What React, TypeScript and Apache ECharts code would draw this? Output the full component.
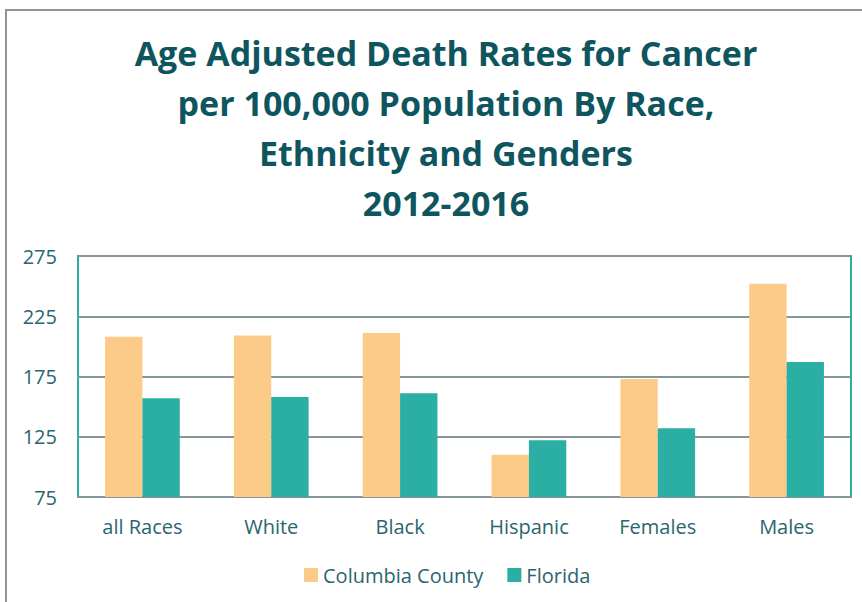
import React, { useEffect, useRef } from "react";
import * as echarts from "echarts";

const categories = ["all Races", "White", "Black", "Hispanic", "Females", "Males"];
const columbiaCounty = [208, 209, 211, 110, 173, 252];
const florida = [157, 158, 161, 122, 132, 187];
const seriesNames = ["Columbia County", "Florida"];
const titleText = "Age Adjusted Death Rates for Cancer\nper 100,000 Population By Race,\nEthnicity and Genders\n2012-2016";

export default function App() {
  const ref = useRef<HTMLDivElement>(null);
  useEffect(() => {
    if (!ref.current) return;
    const chart = echarts.init(ref.current, undefined, { renderer: "svg" });
    const font = "'Open Sans', Lato, sans-serif";
    chart.setOption({
      animation: false,
      backgroundColor: "#ffffff",
      title: {
        text: titleText,
        left: 441,
        textAlign: "center",
        top: 23,
        textStyle: {
          fontFamily: font,
          fontSize: 34,
          fontWeight: "bold",
          color: "#0E5560",
          lineHeight: 50,
        },
      },
      graphic: [
        {
          type: "rect",
          shape: { x: 6, y: 10, width: 900, height: 700 },
          style: { fill: "none", stroke: "#8A989D", lineWidth: 2 },
          silent: true,
          z: 0,
        },
      ],
      legend: {
        data: seriesNames,
        left: 299,
        top: 560,
        icon: "rect",
        itemWidth: 14,
        itemHeight: 14,
        itemGap: 24,
        textStyle: { fontFamily: font, fontSize: 20, color: "#2A6570" },
      },
      grid: {
        left: 78,
        top: 256,
        right: 11,
        bottom: 105,
        show: true,
        borderColor: "#2BAEA3",
        borderWidth: 2,
        backgroundColor: "transparent",
      },
      xAxis: {
        type: "category",
        data: categories,
        axisLine: { lineStyle: { color: "#85959A", width: 2 } },
        axisTick: { show: false },
        axisLabel: {
          fontFamily: font,
          fontSize: 20,
          color: "#2A6570",
          margin: 19,
        },
      },
      yAxis: {
        type: "value",
        min: 75,
        max: 275,
        interval: 50,
        axisLine: { show: false },
        axisTick: { show: false },
        splitLine: { lineStyle: { color: "#85959A", width: 2 } },
        axisLabel: {
          fontFamily: font,
          fontSize: 20,
          color: "#2A6570",
          margin: 21,
        },
      },
      series: [
        {
          name: seriesNames[0],
          type: "bar",
          data: columbiaCounty,
          itemStyle: { color: "#FDCB88" },
          barGap: "0%",
          barCategoryGap: "42%",
        },
        {
          name: seriesNames[1],
          type: "bar",
          data: florida,
          itemStyle: { color: "#2BAEA3" },
          barGap: "0%",
          barCategoryGap: "42%",
        },
      ],
    });
    return () => chart.dispose();
  }, []);
  return (
    <div
      ref={ref}
      style={{ position: "absolute", left: 0, top: 0, width: 862, height: 602 }}
    />
  );
}
